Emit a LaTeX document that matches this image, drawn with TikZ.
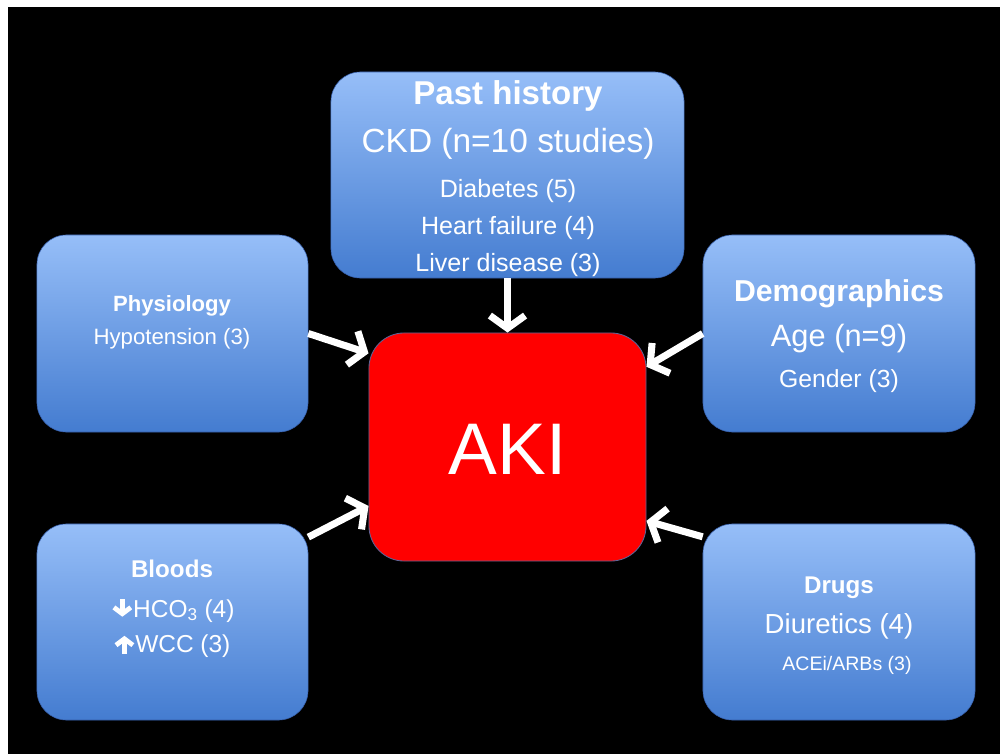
\documentclass[tikz,border=0pt]{standalone}
\usepackage{fontspec}
\setmainfont{Liberation Sans}
\usepackage{tikz}
\usetikzlibrary{arrows.meta,positioning}
\definecolor{boxtop}{RGB}{150,190,248}
\definecolor{boxbot}{RGB}{68,124,208}
\definecolor{boxedge}{RGB}{55,95,170}
\definecolor{akiedge}{RGB}{95,100,150}
\newcommand{\fs}[1]{\fontsize{#1}{#1}\selectfont}
\newcommand{\dnarr}{\tikz[baseline=0pt]\draw[white,line width=3.4pt,-{Straight Barb[length=4.5pt,width=12pt]}] (0,12.5pt)--(0,0.2pt);}
\newcommand{\uparr}{\tikz[baseline=0pt]\draw[white,line width=3.4pt,-{Straight Barb[length=4.5pt,width=12pt]}] (0,-1.5pt)--(0,11.5pt);}

\begin{document}
\begin{tikzpicture}[x=0.025cm, y=-0.025cm,
  box/.style={draw=boxedge, line width=0.4pt, rounded corners=21pt, top color=boxtop, bottom color=boxbot, inner sep=0pt},
  aki/.style={draw=akiedge, line width=0.6pt, rounded corners=25pt, fill=red, inner sep=0pt},
  txt/.style={text=white, anchor=base, inner sep=0pt},
  arr/.style={draw=white, line width=5pt, -{Straight Barb[length=9pt,width=25pt]}}
]
\useasboundingbox (0,0) rectangle (1000,754);
\fill[white] (0,0) rectangle (1000,754);
\fill[black] (8,7) rectangle (1000,754);

\node[box, minimum width=8.825cm, minimum height=5.15cm] (past) at (507.5,175) {};
\node[box, minimum width=6.775cm, minimum height=4.925cm] (phys) at (172.5,333.5) {};
\node[box, minimum width=6.8cm, minimum height=4.925cm] (demo) at (839,333.5) {};
\node[box, minimum width=6.775cm, minimum height=4.9cm] (blood) at (172.5,622) {};
\node[box, minimum width=6.8cm, minimum height=4.9cm] (drugs) at (839,622) {};
\node[aki, minimum width=6.925cm, minimum height=5.7cm] (aki) at (507.5,447) {};

\node[txt] (akitxt) at (507.5,474) {\fs{52pt}AKI};

\node[txt] (pasttitle) at (508,105) {\fs{23.5pt}\bfseries Past history};
\node[txt] (ckd) at (508,153) {\fs{23.8pt}CKD (n=10 studies)};
\node[txt] (diab) at (508,198) {\fs{17.8pt}Diabetes (5)};
\node[txt] (hf) at (508,235) {\fs{17.8pt}Heart failure (4)};
\node[txt] (liver) at (508,272) {\fs{17.8pt}Liver disease (3)};

\node[txt] (phystitle) at (172,312) {\fs{15.7pt}\bfseries Physiology};
\node[txt] (hypo) at (172,345) {\fs{15.8pt}Hypotension (3)};

\node[txt] (demotitle) at (839,302) {\fs{21.5pt}\bfseries Demographics};
\node[txt] (age) at (839,347) {\fs{21.9pt}Age (n=9)};
\node[txt] (gender) at (839,388) {\fs{17.6pt}Gender (3)};

\node[txt] (bloodtitle) at (172,577) {\fs{17.2pt}\bfseries Bloods};
\node[txt] (hco) at (173,617) {\fs{17.4pt}\dnarr HCO\textsubscript{3} (4)};
\node[txt] (wcc) at (172,652) {\fs{17.4pt}\uparr WCC (3)};

\node[txt] (drugtitle) at (839,593) {\fs{17.2pt}\bfseries Drugs};
\node[txt] (diur) at (839,633) {\fs{19.6pt}Diuretics (4)};
\node[txt] (acei) at (847,670) {\fs{13.9pt}ACEi/ARBs (3)};

\draw[arr] (past.south) -- (aki.north);
\draw[arr] (phys.east) -- (aki.146);
\draw[arr] (demo.west) -- (aki.30);
\draw[arr] (blood.32) -- (aki.203);
\draw[arr] (drugs.148) -- (aki.-28);
\end{tikzpicture}
\end{document}
